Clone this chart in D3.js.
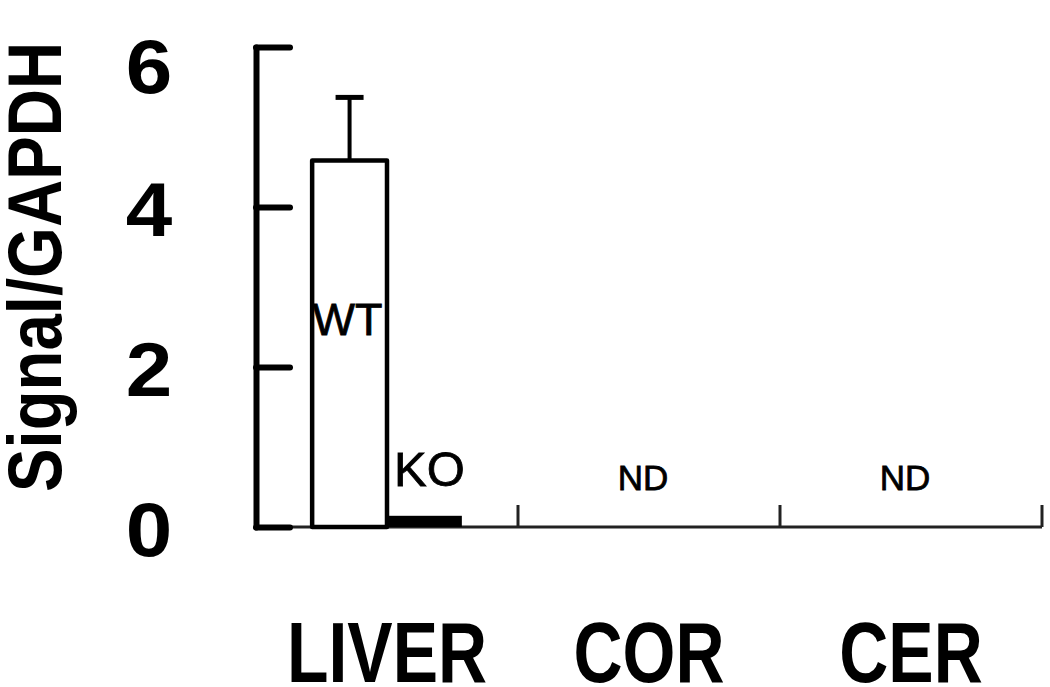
<!DOCTYPE html>
<html>
<head>
<meta charset="utf-8">
<script src="https://cdn.jsdelivr.net/npm/d3@7"></script>
<style>
  body { margin: 0; background: #fff; }
  text { font-family: "Liberation Sans", Arial, Helvetica, sans-serif; fill: #000; }
</style>
</head>
<body>
<div id="chart"></div>
<script>
// tissues on the x axis, genotypes inside each tissue
var tissues = ["LIVER", "COR", "CER"];
var genotypes = ["WT", "KO"];
// signal / GAPDH, null = not detected
var wtValues = [4.58, null, null];
var koValues = [0.14, null, null];
var wtErrors = [0.79, null, null];
var yTicks = [0, 2, 4, 6];

var svgWidth = 1050;
var svgHeight = 687;

var svg = d3.select("#chart")
    .append("svg")
    .attr("width", svgWidth)
    .attr("height", svgHeight);

var xScale = d3.scaleBand()
    .domain(tissues)
    .range([256, 1042]);

var subScale = d3.scaleBand()
    .domain(genotypes)
    .range([0, xScale.bandwidth()])
    .paddingInner(0)
    .paddingOuter(0.75);

var yScale = d3.scaleLinear()
    .domain([0, 6])
    .range([527, 47]);

// x axis: thin line with ticks pointing up at the group borders
var xAxis = svg.append("g");
xAxis.append("line")
    .attr("x1", xScale.range()[0])
    .attr("x2", xScale.range()[1])
    .attr("y1", yScale(0))
    .attr("y2", yScale(0))
    .attr("stroke", "#222")
    .attr("stroke-width", 3);
xAxis.selectAll(".xtick")
    .data(tissues)
    .enter()
    .append("line")
    .attr("x1", d => xScale(d) + xScale.bandwidth())
    .attr("x2", d => xScale(d) + xScale.bandwidth())
    .attr("y1", yScale(0))
    .attr("y2", yScale(0) - 22)
    .attr("stroke", "#222")
    .attr("stroke-width", 3);

xAxis.selectAll(".xlabel")
    .data(tissues)
    .enter()
    .append("text")
    .attr("text-anchor", "middle")
    .attr("font-weight", "bold")
    .attr("font-size", 86)
    .attr("transform", d => `translate(${xScale(d) + xScale.bandwidth() / 2}, 682) scale(0.79,1)`)
    .text(d => d);

// y axis: thick line, ticks pointing inward
var leftAxis = d3.axisLeft(yScale)
    .tickValues(yTicks)
    .tickSize(-34)
    .tickSizeOuter(0)
    .tickFormat(d3.format("d"));

var yAxis = svg.append("g")
    .attr("transform", "translate(256,0)")
    .call(leftAxis);

yAxis.select(".domain")
    .attr("stroke", "#000")
    .attr("stroke-width", 6)
    .attr("stroke-linecap", "round");
yAxis.selectAll(".tick line")
    .attr("stroke", "#000")
    .attr("stroke-width", 6)
    .attr("stroke-linecap", "round");
yAxis.selectAll(".tick text")
    .attr("x", null)
    .attr("dy", null)
    .attr("fill", "#000")
    .attr("font-family", "Liberation Sans, Arial, sans-serif")
    .attr("font-weight", "bold")
    .attr("font-size", 76)
    .attr("text-anchor", "middle")
    .attr("transform", d => `translate(-107, ${d === 6 ? 45 : 28}) scale(1.1,1)`);

// y label
svg.append("text")
    .attr("text-anchor", "middle")
    .attr("font-weight", "bold")
    .attr("font-size", 76)
    .attr("transform", "translate(61,267) rotate(-90) scale(0.86,1)")
    .text("Signal/GAPDH");

var barRows = tissues.map((t, i) => ({ tissue: t, wt: wtValues[i], ko: koValues[i], err: wtErrors[i] }));

barRows.forEach(function(row) {
    var g = svg.append("g").attr("transform", `translate(${xScale(row.tissue)},0)`);
    if (row.wt === null) {
        g.append("text")
            .attr("x", xScale.bandwidth() / 2 - 6)
            .attr("y", 490)
            .attr("text-anchor", "middle")
            .attr("font-size", 35)
            .attr("stroke", "#000")
            .attr("stroke-width", 0.8)
            .text("ND");
        return;
    }
    var cx = subScale("WT") + subScale.bandwidth() / 2;
    // error bar
    g.append("line")
        .attr("x1", cx).attr("x2", cx)
        .attr("y1", yScale(row.wt))
        .attr("y2", yScale(row.wt + row.err))
        .attr("stroke", "#000")
        .attr("stroke-width", 4);
    g.append("line")
        .attr("x1", cx - 14).attr("x2", cx + 14)
        .attr("y1", yScale(row.wt + row.err))
        .attr("y2", yScale(row.wt + row.err))
        .attr("stroke", "#000")
        .attr("stroke-width", 5);
    // WT bar
    g.append("rect")
        .attr("x", subScale("WT"))
        .attr("y", yScale(row.wt))
        .attr("width", subScale.bandwidth())
        .attr("height", yScale(0) - yScale(row.wt))
        .attr("fill", "#fff")
        .attr("stroke", "#000")
        .attr("stroke-width", 4.5)
        .attr("stroke-linejoin", "round");
    // KO bar
    g.append("rect")
        .attr("x", subScale("KO"))
        .attr("y", yScale(row.ko))
        .attr("width", subScale.bandwidth())
        .attr("height", yScale(0) - yScale(row.ko))
        .attr("fill", "#000");
    g.append("text")
        .attr("x", cx - 2)
        .attr("y", yScale(row.wt / 2) - 9)
        .attr("text-anchor", "middle")
        .attr("font-size", 45)
        .attr("stroke", "#000")
        .attr("stroke-width", 0.8)
        .text("WT");
    g.append("text")
        .attr("x", subScale("KO") + subScale.bandwidth() / 2 + 5)
        .attr("y", yScale(row.ko) - 30)
        .attr("text-anchor", "middle")
        .attr("font-size", 49)
        .attr("stroke", "#000")
        .attr("stroke-width", 0.8)
        .text("KO");
});
</script>
</body>
</html>
